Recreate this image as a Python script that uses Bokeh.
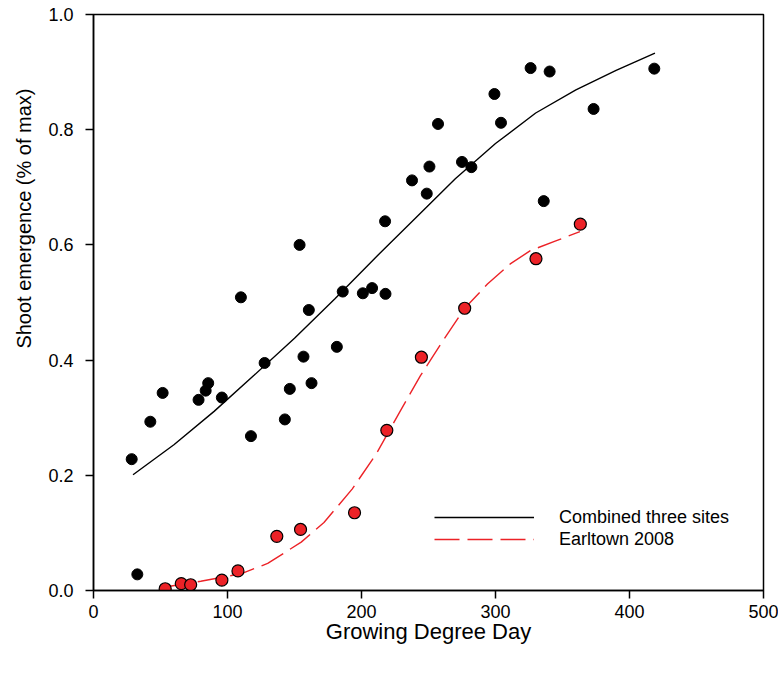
from bokeh.plotting import figure
from bokeh.models import (Range1d, FixedTicker, PrintfTickFormatter, Legend,
                          LegendItem, Title, ColumnDataSource)
from bokeh.embed import file_html
from bokeh.resources import INLINE

# Combined three sites (observed)
comb_gdd = [28.5, 32.7, 42.4, 51.6, 78.4, 83.7, 85.6, 95.8, 110.0, 117.5,
            127.7, 142.8, 146.5, 153.8, 156.7, 160.7, 162.7, 181.6, 186.0,
            201.0, 207.9, 217.9, 217.6, 237.7, 248.7, 250.7, 257.1, 275.0,
            282.0, 299.2, 304.1, 326.2, 336.0, 340.4, 373.2, 418.5]
comb_emg = [0.228, 0.028, 0.293, 0.343, 0.331, 0.347, 0.360, 0.335, 0.509,
            0.268, 0.395, 0.297, 0.350, 0.600, 0.406, 0.487, 0.360, 0.423,
            0.519, 0.516, 0.525, 0.515, 0.641, 0.712, 0.689, 0.736, 0.810,
            0.744, 0.735, 0.862, 0.812, 0.907, 0.676, 0.901, 0.836, 0.906]

# Earltown 2008 (observed)
earl_gdd = [53.5, 65.5, 72.5, 95.8, 107.8, 136.8, 154.5, 194.8, 218.9,
            244.7, 277.0, 330.2, 363.3]
earl_emg = [0.003, 0.012, 0.010, 0.018, 0.034, 0.094, 0.106, 0.135, 0.278,
            0.405, 0.490, 0.576, 0.636]

# Fitted curves
comb_fit_gdd = [29.5, 60, 90, 120, 150, 180, 210, 240, 270, 300, 330, 360,
                390, 419]
comb_fit_emg = [0.201, 0.253, 0.311, 0.374, 0.438, 0.506, 0.577, 0.646,
                0.715, 0.776, 0.829, 0.869, 0.903, 0.933]

earl_fit_gdd = [53.5, 80, 110, 130, 155, 172, 193, 211, 229, 244, 260, 277,
                294, 311, 326, 345, 363]
earl_fit_emg = [0.006, 0.016, 0.029, 0.047, 0.084, 0.118, 0.176, 0.237,
                0.312, 0.373, 0.431, 0.490, 0.532, 0.567, 0.590, 0.607, 0.623]

x_ticks = [0, 100, 200, 300, 400, 500]
y_ticks = [0.0, 0.2, 0.4, 0.6, 0.8, 1.0]

FONT = "Liberation Sans"
RED = "#ec2227"

p = figure(width=778, height=667, output_backend="svg", toolbar_location=None,
           x_range=Range1d(0, 500), y_range=Range1d(0, 1),
           min_border_left=92, min_border_right=15, min_border_top=14,
           min_border_bottom=77)
p.grid.visible = False
p.outline_line_color = "black"
p.outline_line_width = 1.5
p.background_fill_color = "white"

for ax in (p.xaxis[0], p.yaxis[0]):
    ax.axis_line_width = 1.5
    ax.axis_line_color = "black"
    ax.major_tick_line_width = 1.5
    ax.major_tick_line_color = "black"
    ax.major_tick_out = 8
    ax.major_tick_in = 0
    ax.minor_tick_out = 0
    ax.minor_tick_in = 0
    ax.major_label_text_font = FONT
    ax.major_label_text_font_size = "18px"
    ax.major_label_text_color = "black"

p.xaxis.ticker = FixedTicker(ticks=x_ticks)
p.yaxis.ticker = FixedTicker(ticks=y_ticks)
p.xaxis.formatter = PrintfTickFormatter(format="%d")
p.yaxis.formatter = PrintfTickFormatter(format="%.1f")
p.xaxis.major_label_standoff = 6
p.yaxis.major_label_standoff = 12

p.xaxis.axis_label = "Growing Degree Day"
p.xaxis.axis_label_text_font = FONT
p.xaxis.axis_label_text_font_size = "22px"
p.xaxis.axis_label_text_font_style = "normal"
p.xaxis.axis_label_text_color = "black"
p.xaxis.axis_label_standoff = -2

ytitle = Title(text="Shoot emergence (% of max)", align="right", offset=74,
               standoff=21, text_font=FONT, text_font_size="20px",
               text_font_style="normal", text_color="black")
p.add_layout(ytitle, "left")

src_comb = ColumnDataSource(dict(x=comb_gdd, y=comb_emg))
src_earl = ColumnDataSource(dict(x=earl_gdd, y=earl_emg))
src_cf = ColumnDataSource(dict(x=comb_fit_gdd, y=comb_fit_emg))
src_ef = ColumnDataSource(dict(x=earl_fit_gdd, y=earl_fit_emg))

r_cf = p.line("x", "y", source=src_cf, line_color="black", line_width=1.4)
r_ef = p.line("x", "y", source=src_ef, line_color=RED, line_width=1.4,
              line_dash="25 8")

p.scatter("x", "y", source=src_comb, size=11, fill_color="black",
          line_color="black", line_width=1)
p.scatter("x", "y", source=src_earl, size=12, fill_color=RED,
          line_color="black", line_width=1.2)

legend = Legend(items=[LegendItem(label="Combined three sites", renderers=[r_cf]),
                       LegendItem(label="Earltown 2008", renderers=[r_ef])],
                location=(341, 40), glyph_width=100, glyph_height=22,
                label_height=22, label_standoff=25, spacing=0, padding=0,
                margin=0, border_line_color=None, background_fill_alpha=0,
                label_text_font=FONT, label_text_font_size="18px",
                label_text_color="black")
p.add_layout(legend)

open("out.html", "w").write(file_html(p, INLINE))
